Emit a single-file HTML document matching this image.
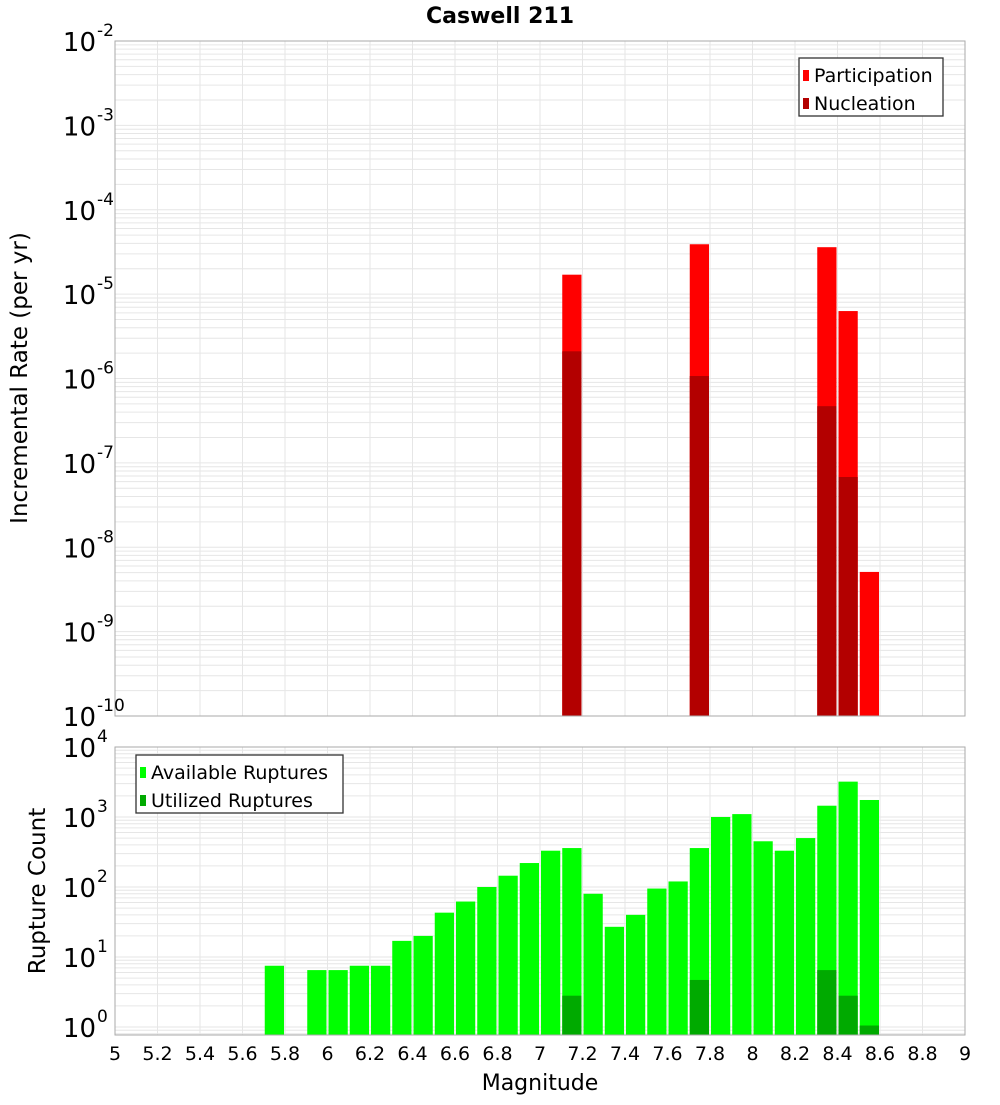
<!DOCTYPE html>
<html><head><meta charset="utf-8"><style>
body{margin:0;background:#fff;}
svg text{font-family:"DejaVu Sans","Liberation Sans",sans-serif;}
</style></head><body>
<svg id="chart" width="1000" height="1100" xmlns="http://www.w3.org/2000/svg">
<text x="500" y="23" text-anchor="middle" font-size="22" font-weight="bold">Caswell 211</text>
<g id="top"></g>
<g id="bot"></g>
<text transform="translate(27,378) rotate(-90)" text-anchor="middle" font-size="23">Incremental Rate (per yr)</text>
<text transform="translate(45,891) rotate(-90)" text-anchor="middle" font-size="23">Rupture Count</text>
<text x="540" y="1090" text-anchor="middle" font-size="22">Magnitude</text>
</svg>
<script>
const rateMags=[7.15,7.75,8.35,8.45,8.55];
const participation=[1.7e-5,3.9e-5,3.6e-5,6.3e-6,5.1e-9];
const nucleationMags=[7.15,7.75,8.35,8.45];
const nucleation=[2.1e-6,1.07e-6,4.7e-7,6.8e-8];
const countMags=[5.75,5.95,6.05,6.15,6.25,6.35,6.45,6.55,6.65,6.75,6.85,6.95,7.05,7.15,7.25,7.35,7.45,7.55,7.65,7.75,7.85,7.95,8.05,8.15,8.25,8.35,8.45,8.55];
const available=[7.5,6.5,6.5,7.5,7.5,17,20,43,62,100,145,220,330,360,80,27,40,95,120,360,1000,1100,450,330,500,1450,3200,1750];
const utilizedMags=[7.15,7.75,8.35,8.45,8.55];
const utilized=[2.8,4.7,6.5,2.8,1.05];
const xTicks=[5,5.2,5.4,5.6,5.8,6,6.2,6.4,6.6,6.8,7,7.2,7.4,7.6,7.8,8,8.2,8.4,8.6,8.8,9];
const topExp=[-2,-3,-4,-5,-6,-7,-8,-9,-10];
const botExp=[4,3,2,1,0];

const NS="http://www.w3.org/2000/svg";
const L=115,R=965;
const x=m=>L+(m-5)/4*(R-L);
const yT=v=>41+(-2-Math.log10(v))*84.375;
const yB=v=>747+(4-Math.log10(v))*70;
function mk(p,t,a){const e=document.createElementNS(NS,t);for(const k in a)e.setAttribute(k,a[k]);p.appendChild(e);return e;}
function plot(g,top,bot,yf,dTop,dBot){
  const bg=mk(g,'rect',{x:L,y:top,width:R-L,height:bot-top,fill:'#fff'});
  
  
  for(let d=dBot;d<dTop;d++)for(let k=1;k<=9;k++){const yy=yf(k*Math.pow(10,d));if(yy<top||yy>bot)continue;
    const ln=mk(g,'line',{x1:L,x2:R,y1:yy,y2:yy,stroke:'#e6e6e6','stroke-width':1});
    
    }
  xTicks.forEach(t=>{const ln=mk(g,'line',{x1:x(t),x2:x(t),y1:top,y2:bot,stroke:'#e6e6e6','stroke-width':1});
    
    });
}
function bars(g,mags,vals,yf,base,color,name){
  mags.forEach((m,i)=>{const yy=yf(vals[i]);const r=mk(g,'rect',{x:x(m-0.05)+1,y:yy,width:x(m+0.05)-x(m-0.05)-2,height:base-yy,fill:color});
    
    });
}
function border(g,top,bot){const b=mk(g,'rect',{x:L,y:top,width:R-L,height:bot-top,fill:'none',stroke:'#aaa','stroke-width':1});
  
  }
function ylab(g,exps,yf){exps.forEach(e=>{const yy=yf(Math.pow(10,e));
  const t=mk(g,'text',{x:96,y:yy+10,'text-anchor':'end','font-size':26});t.textContent='10';
  
  
  const s=mk(g,'text',{x:97,y:yy-5,'font-size':17});s.textContent=String(e).replace('-','-');
  
  });}
function legend(g,x0,y0,w,items){
  const b=mk(g,'rect',{x:x0,y:y0,width:w,height:58,fill:'#fff',stroke:'#333','stroke-width':1.3});
  
  
  items.forEach((it,i)=>{const sw=mk(g,'rect',{x:x0+4,y:y0+12+i*28,width:6,height:11,fill:it[1]});
    
    
    const t=mk(g,'text',{x:x0+15,y:y0+24+i*28,'font-size':19});t.textContent=it[0];
    
    });
}
const gt=document.getElementById('top'),gb=document.getElementById('bot');
plot(gt,41,716,yT,-2,-10);
bars(gt,rateMags,participation,yT,716,'#ff0000','participation-bar');
bars(gt,nucleationMags,nucleation,yT,716,'#b30000','nucleation-bar');
border(gt,41,716);ylab(gt,topExp,yT);
legend(gt,799,58,144,[['Participation','#ff0000'],['Nucleation','#b30000']]);
plot(gb,747,1035,yB,4,-1);
bars(gb,countMags,available,yB,1035,'#00ff00','available-bar');
bars(gb,utilizedMags,utilized,yB,1035,'#00aa00','utilized-bar');
border(gb,747,1035);ylab(gb,botExp,yB);
legend(gb,136,755,207,[['Available Ruptures','#00ff00'],['Utilized Ruptures','#00aa00']]);
xTicks.forEach(t=>{const tx=mk(gb,'text',{x:x(t),y:1060,'text-anchor':'middle','font-size':19});tx.textContent=String(t);
  
  });
</script>
</body></html>
